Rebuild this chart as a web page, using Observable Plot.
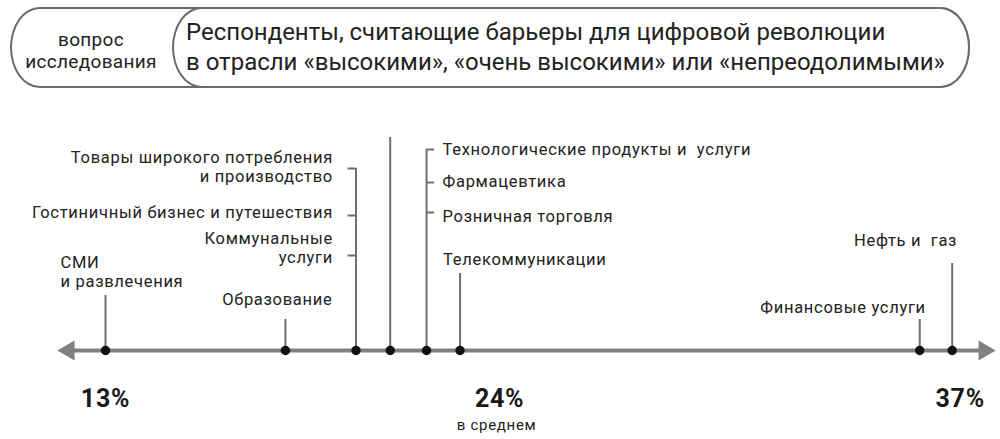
<!DOCTYPE html>
<html>
<head>
<meta charset="utf-8">
<script src="https://cdn.jsdelivr.net/npm/d3@7"></script>
<script src="https://cdn.jsdelivr.net/npm/@observablehq/plot@0.6"></script>
<style>
  html, body { margin: 0; padding: 0; background: #fff; }
  body { width: 1000px; height: 439px; overflow: hidden; font-family: Roboto, "DejaVu Sans", sans-serif; color: #222; }
  #header { position: relative; height: 100px; }
  .pill { position: absolute; top: 7px; height: 81px; box-sizing: border-box; border: 2px solid #6b6b6b; border-radius: 30px / 41px; background: #fff; }
  #q { position: absolute; left: 10px; width: 162px; top: 29px; text-align: center; font-size: 19px; line-height: 22px; color: #222; letter-spacing: 0.3px; }
  #t { position: absolute; left: 186px; top: 17px; font-size: 24px; line-height: 30px; color: #222; white-space: pre; }
  #chart svg text { white-space: pre; letter-spacing: 0.7px; }
  #chart svg text.pct { letter-spacing: 0.5px; }
</style>
</head>
<body>
<div id="header">
  <div class="pill" style="left:10px; width:960px;"></div>
  <div class="pill" style="left:172px; width:798px;"></div>
  <div id="q">вопрос<br>исследования</div>
  <div id="t"></div>
</div>
<div id="chart"></div>
<script>
// ---- data ----
const questionLines = ["Респонденты, считающие барьеры для цифровой революции", "в отрасли «высокими», «очень высокими» или «непреодолимыми»"];
const industries = [
  "СМИ\nи развлечения",
  "Образование",
  "Товары широкого потребления\nи производство",
  "Гостиничный бизнес и путешествия",
  "Коммунальные\nуслуги",
  "Технологические продукты и  услуги",
  "Фармацевтика",
  "Розничная торговля",
  "Телекоммуникации",
  "Финансовые услуги",
  "Нефть и  газ"
];
const shares = [13, 18.1, 20.1, 20.1, 20.1, 22.1, 22.1, 22.1, 23.05, 36.08, 37];
const unlabeledShares = [21.07];
const tickPercents = [13, 24, 37];
const tickLabels = ["13%", "24%", "37%"];
const averageNote = "в среднем";

// ---- layout (px above the axis line, offsets) ----
const labelLevel  = [79.5, 52, 184.5, 139, 103, 202, 170, 135, 92, 44, 111];
const labelAnchor = ["start","end","end","end","end","start","start","start","start","end","end"];
const labelDx     = [-45, 47, -23, -23, -23, 16, 16, 16, -17, 6, 5];
const branchLevel = [null, null, 182, 135, 95, 201, 168, 138, null, null, null];
const branchSide  = [0, 0, -1, -1, -1, 1, 1, 1, 0, 0, 0];
const stemTopByShare = new Map([[13, 55], [18.1, 31], [20.1, 182], [21.07, 213], [22.1, 201], [23.05, 77], [36.08, 31], [37, 87]]);
const axisExtent  = [11.96, 37.91];
const tickDx      = [0, 6, 8];

document.getElementById("t").textContent = questionLines.join("\n");

const labels = industries.map((name, i) => ({name, share: shares[i], level: labelLevel[i], anchor: labelAnchor[i], dx: labelDx[i]}));
const branches = industries.map((name, i) => ({share: shares[i], level: branchLevel[i], side: branchSide[i]})).filter(d => d.level != null);
const stemShares = [...new Set([...shares, ...unlabeledShares])].sort((a, b) => a - b);
const stems = stemShares.map(s => ({share: s, top: stemTopByShare.get(s)}));

const pxPerUnit = (951.7 - 105) / (37 - 13);
const branchLen = 8 / pxPerUnit;

const labelMarks = [];
for (const anchor of ["start", "end"]) {
  for (const dx of [...new Set(labels.filter(d => d.anchor === anchor).map(d => d.dx))]) {
    labelMarks.push(Plot.text(labels.filter(d => d.anchor === anchor && d.dx === dx), {
      x: "share", y: "level", text: "name", textAnchor: anchor, dx, lineAnchor: "middle",
      lineHeight: 1.18, fontSize: 16.5, fill: "#222"
    }));
  }
}

const chart = Plot.plot({
  width: 1000,
  height: 339,
  marginLeft: 105,
  marginRight: 1000 - 951.7,
  marginTop: 0,
  marginBottom: 89,
  x: {domain: [13, 37], axis: null},
  y: {domain: [0, 250], axis: null},
  style: {fontFamily: "Roboto, 'DejaVu Sans', sans-serif", background: "#fff", overflow: "visible"},
  marks: [
    Plot.ruleY([0], {x1: axisExtent[0], x2: axisExtent[1], stroke: "#808080", strokeWidth: 4}),
    Plot.dot([axisExtent[0]], {x: d => d, y: 0, symbol: "triangle", r: 7.4, rotate: -90, fill: "#808080", stroke: "none"}),
    Plot.dot([axisExtent[1]], {x: d => d, y: 0, symbol: "triangle", r: 7.4, rotate: 90, fill: "#808080", stroke: "none"}),
    Plot.ruleX(stems, {x: "share", y1: 0, y2: "top", stroke: "#6f6f6f", strokeWidth: 2}),
    Plot.ruleY(branches, {y: "level", x1: "share", x2: d => d.share + d.side * branchLen, stroke: "#6f6f6f", strokeWidth: 2}),
    Plot.dot(stems, {x: "share", y: 0, r: 4.7, fill: "#111", stroke: "none"}),
    ...labelMarks,
    ...tickPercents.map((p, i) => Plot.text([p], {x: d => d, y: -48, text: [tickLabels[i]], dx: tickDx[i], fontSize: 25, fontWeight: "bold", fill: "#1a1a1a", lineAnchor: "middle", className: "pct"})),
    Plot.text([24], {x: d => d, y: -75, text: [averageNote], dx: 3, fontSize: 15, fill: "#222", lineAnchor: "middle", className: "pct"})
  ]
});
document.getElementById("chart").appendChild(chart);
</script>
</body>
</html>
